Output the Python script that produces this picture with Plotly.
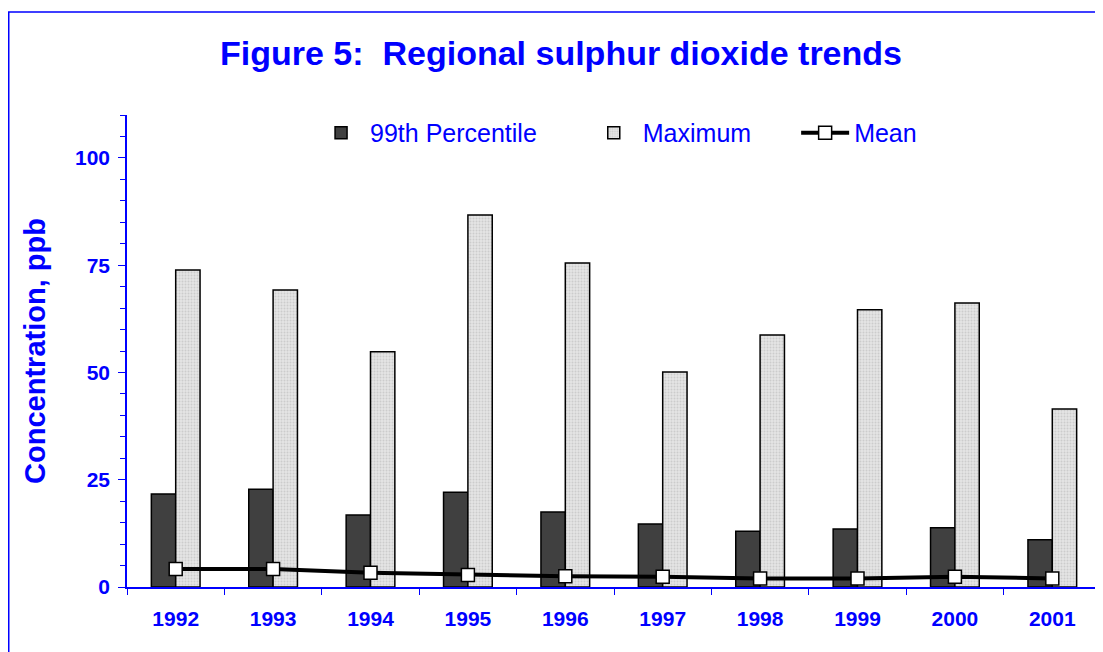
import plotly.graph_objects as go

years = ["1992", "1993", "1994", "1995", "1996", "1997", "1998", "1999", "2000", "2001"]
p99 = [21.7, 22.8, 16.8, 22.1, 17.5, 14.7, 13.0, 13.5, 13.8, 11.0]
maximum = [73.9, 69.2, 54.8, 86.7, 75.5, 50.1, 58.7, 64.6, 66.2, 41.5]
mean = [4.2, 4.2, 3.3, 2.8, 2.5, 2.4, 2.0, 2.0, 2.4, 2.0]

BLUE = "#0000FF"
FONT = "Liberation Sans, Arial, sans-serif"

fig = go.Figure()
fig.add_trace(go.Bar(
    x=years, y=p99, name="99th Percentile", legend="legend",
    marker=dict(color="#404040", line=dict(color="black", width=1.5)),
))
fig.add_trace(go.Bar(
    x=years, y=maximum, name="Maximum", legend="legend2",
    marker=dict(color="#e4e4e4", line=dict(color="black", width=1.5),
                pattern=dict(shape=".", fgcolor="#b4b4b4", bgcolor="#e4e4e4", size=3, solidity=0.35)),
))
fig.add_trace(go.Scatter(
    x=years, y=mean, name="Mean", mode="lines+markers", legend="legend3",
    line=dict(color="black", width=4),
    marker=dict(symbol="square", size=13, color="white", line=dict(color="black", width=1.5)),
))

leg_common = dict(orientation="h", xanchor="left", y=0.962, yanchor="middle",
                  font=dict(family=FONT, size=25, color=BLUE), bgcolor="rgba(0,0,0,0)",
                  itemwidth=48)

fig.update_layout(
    width=1103, height=652,
    margin=dict(l=119, r=10, t=107, b=73, autoexpand=False),
    paper_bgcolor="white", plot_bgcolor="white",
    barmode="group", bargap=0.5, bargroupgap=0.0,
    title=dict(text="<b>Figure 5:  Regional sulphur dioxide trends</b>",
               font=dict(family=FONT, size=34, color=BLUE),
               xref="paper", x=0.4456, xanchor="center",
               yref="container", y=0.931, yanchor="middle"),
    font=dict(family=FONT, color=BLUE),
    showlegend=True,
    legend=dict(x=0.190, **leg_common),
    legend2=dict(x=0.470, **leg_common),
    legend3=dict(x=0.687, **leg_common),
    xaxis=dict(
        type="category", showline=True, linecolor=BLUE, linewidth=1.5,
        ticks="outside", tickson="boundaries", tickcolor=BLUE, ticklen=6,
        tickfont=dict(family=FONT, size=21, color=BLUE, weight="bold"),
        ticklabelstandoff=12,
        showgrid=False, zeroline=False,
        range=[-0.5, 9.5],
    ),
    yaxis=dict(
        range=[0, 110], tickvals=[0, 25, 50, 75, 100],
        showline=True, linecolor=BLUE, linewidth=1.5,
        ticks="outside", tickcolor=BLUE, ticklen=7,
        minor=dict(dtick=5, ticks="outside", ticklen=5, tickcolor=BLUE),
        tickfont=dict(family=FONT, size=21, color=BLUE, weight="bold"),
        ticklabelstandoff=4,
        showgrid=False, zeroline=False,
        title=dict(text="<b>Concentration, ppb</b>", font=dict(family=FONT, size=29, color=BLUE), standoff=21),
    ),
    shapes=[dict(type="rect", xref="paper", yref="paper",
                 x0=-0.1214, x1=1.2, y0=-0.3, y1=1.218,
                 line=dict(color=BLUE, width=1.5), fillcolor="rgba(0,0,0,0)", layer="below")],
)

fig.write_html("out.html")
